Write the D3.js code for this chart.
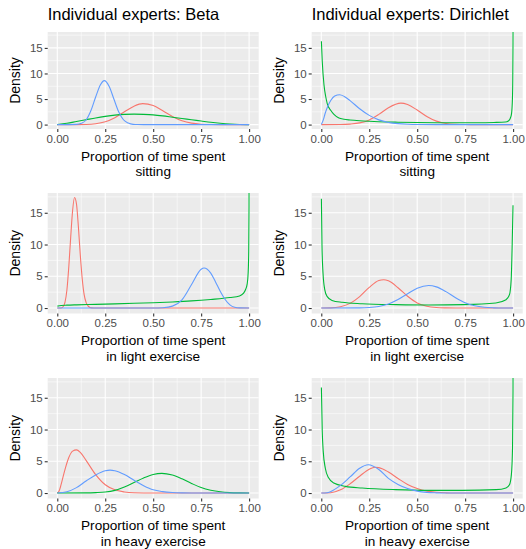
<!DOCTYPE html>
<html>
<head>
<meta charset="utf-8">
<script src="https://cdn.jsdelivr.net/npm/d3@7"></script>
<style>
body { margin: 0; background: #fff; }
text { font-family: "Liberation Sans", Arial, Helvetica, sans-serif; }
</style>
</head>
<body>
<div id="chart"></div>
<script>
// densities, as [proportion, density]
// expert 1 = red, expert 2 = green, expert 3 = blue

// sitting
var betaSittingRed = [[0,0],[0.1,0],[0.15,0.02],[0.2,0.16],[0.25,0.55],[0.3,1.35],[0.35,2.5],[0.4,3.6],[0.445,4.1],[0.5,3.75],[0.55,2.7],[0.6,1.6],[0.65,0.75],[0.7,0.28],[0.75,0.08],[0.8,0.02],[0.85,0],[1,0]];
var betaSittingGreen = [[0,0],[0.05,0.25],[0.1,0.6],[0.15,0.95],[0.2,1.3],[0.25,1.6],[0.3,1.85],[0.35,2.0],[0.4,2.05],[0.45,2.0],[0.5,1.9],[0.55,1.7],[0.6,1.45],[0.65,1.2],[0.7,0.95],[0.75,0.7],[0.8,0.45],[0.85,0.25],[0.9,0.1],[0.95,0.02],[1,0]];
var betaSittingBlue = [[0,0],[0.1,0.05],[0.125,0.25],[0.15,0.9],[0.175,2.7],[0.2,5.4],[0.225,7.8],[0.245,8.6],[0.27,7.5],[0.295,5.0],[0.32,2.5],[0.345,0.95],[0.37,0.3],[0.395,0.05],[0.42,0.01],[0.45,0],[1,0]];

var dirSittingRed = [[0,0],[0.1,0.02],[0.15,0.1],[0.2,0.33],[0.25,0.92],[0.3,2.0],[0.35,3.3],[0.415,4.2],[0.45,3.92],[0.5,2.85],[0.55,1.6],[0.6,0.68],[0.65,0.22],[0.7,0.06],[0.75,0.01],[0.8,0],[1,0]];
var dirSittingGreen = [[0.0005,16.3],[0.005,12.4],[0.014,7.8],[0.023,5.5],[0.031,4.1],[0.049,2.8],[0.066,2.0],[0.092,1.3],[0.118,1.05],[0.15,0.9],[0.2,0.75],[0.25,0.65],[0.3,0.57],[0.4,0.47],[0.5,0.4],[0.6,0.37],[0.7,0.36],[0.8,0.37],[0.9,0.42],[0.96,0.5],[0.975,0.7],[0.985,1.2],[0.992,2.2],[0.996,4.5],[0.998,8],[0.9995,16],[1,25]];
var dirSittingBlue = [[0,0],[0.01,0.88],[0.02,2.17],[0.035,3.67],[0.05,4.76],[0.07,5.6],[0.096,5.85],[0.12,5.5],[0.15,4.7],[0.2,3.1],[0.25,1.8],[0.3,0.92],[0.35,0.42],[0.4,0.18],[0.45,0.07],[0.5,0.02],[0.6,0],[1,0]];

// light exercise
var betaLightRed = [[0,0],[0.02,0],[0.03,0.2],[0.04,0.9],[0.05,2.8],[0.06,6.5],[0.07,11.2],[0.08,15.4],[0.09,17.4],[0.1,16.4],[0.11,12.8],[0.12,8.3],[0.13,4.6],[0.14,2.1],[0.15,0.9],[0.16,0.35],[0.17,0.1],[0.18,0.03],[0.2,0],[1,0]];
var betaLightGreen = [[0.0005,0.3],[0.02,0.4],[0.05,0.45],[0.1,0.5],[0.2,0.57],[0.3,0.65],[0.4,0.74],[0.5,0.84],[0.6,0.96],[0.7,1.12],[0.8,1.35],[0.9,1.65],[0.95,1.9],[0.97,2.3],[0.98,2.8],[0.99,3.8],[0.995,5.5],[0.998,9],[0.9995,16],[1,30]];
var betaLightBlue = [[0,0],[0.5,0],[0.55,0.05],[0.6,0.3],[0.65,1.3],[0.7,3.7],[0.75,6.1],[0.765,6.3],[0.8,5.5],[0.825,4.1],[0.85,2.6],[0.875,1.35],[0.9,0.5],[0.925,0.12],[0.95,0.02],[1,0]];

var dirLightRed = [[0,0],[0.05,0.02],[0.1,0.21],[0.15,0.73],[0.2,1.8],[0.25,3.25],[0.3,4.33],[0.325,4.45],[0.35,4.28],[0.4,3.2],[0.45,1.85],[0.5,0.8],[0.55,0.28],[0.6,0.08],[0.65,0.02],[0.7,0],[1,0]];
var dirLightGreen = [[0.0005,17.2],[0.0037,9.7],[0.009,5.5],[0.018,2.9],[0.03,1.84],[0.056,1.2],[0.108,0.9],[0.213,0.68],[0.39,0.53],[0.56,0.47],[0.74,0.53],[0.91,0.79],[0.963,1.3],[0.981,2.1],[0.99,4.5],[0.995,9.7],[0.9995,16.2]];
var dirLightBlue = [[0,0],[0.2,0.02],[0.25,0.08],[0.3,0.25],[0.35,0.64],[0.4,1.33],[0.45,2.25],[0.5,3.12],[0.56,3.55],[0.6,3.33],[0.65,2.58],[0.7,1.63],[0.75,0.84],[0.8,0.36],[0.85,0.12],[0.9,0.03],[0.95,0],[1,0]];

// heavy exercise
var betaHeavyRed = [[0,0],[0.01,0.35],[0.02,1.35],[0.04,3.7],[0.06,5.6],[0.08,6.6],[0.1,6.8],[0.12,6.4],[0.15,5.15],[0.2,2.9],[0.25,1.3],[0.3,0.5],[0.35,0.17],[0.4,0.05],[0.5,0],[1,0]];
var betaHeavyGreen = [[0,0],[0.15,0.02],[0.2,0.06],[0.25,0.15],[0.3,0.42],[0.35,0.95],[0.4,1.65],[0.45,2.38],[0.5,2.93],[0.545,3.1],[0.6,2.83],[0.65,2.24],[0.7,1.51],[0.75,0.86],[0.8,0.44],[0.85,0.19],[0.9,0.07],[0.95,0.02],[1,0]];
var betaHeavyBlue = [[0,0],[0.05,0.2],[0.1,0.85],[0.15,1.9],[0.2,2.85],[0.25,3.5],[0.275,3.6],[0.3,3.5],[0.35,2.9],[0.4,2.0],[0.45,1.15],[0.5,0.5],[0.55,0.22],[0.6,0.08],[0.65,0.02],[0.7,0],[1,0]];

var dirHeavyRed = [[0,0],[0.05,0.05],[0.1,0.5],[0.15,1.45],[0.2,2.65],[0.25,3.75],[0.28,4.05],[0.3,4.0],[0.35,3.3],[0.4,2.3],[0.45,1.35],[0.5,0.7],[0.55,0.3],[0.6,0.11],[0.65,0.03],[0.7,0],[1,0]];
var dirHeavyGreen = [[0.0005,16.6],[0.005,9.7],[0.01,6.6],[0.021,3.9],[0.038,2.4],[0.065,1.58],[0.126,1.05],[0.213,0.79],[0.387,0.53],[0.562,0.42],[0.736,0.42],[0.911,0.53],[0.963,0.8],[0.981,1.3],[0.991,2.9],[0.997,7.1],[0.9995,16],[1,30]];
var dirHeavyBlue = [[0,0],[0.03,0.05],[0.05,0.25],[0.1,1.2],[0.15,2.53],[0.2,3.9],[0.245,4.45],[0.3,3.7],[0.35,2.3],[0.4,1.35],[0.45,0.7],[0.5,0.3],[0.55,0.1],[0.6,0.03],[0.65,0],[1,0]];

var models = ["Beta", "Dirichlet"];
var activities = ["sitting", "in light exercise", "in heavy exercise"];
var expertColours = ["#F8766D", "#00BA38", "#619CFF"];
var xTicks = [0, 0.25, 0.5, 0.75, 1];
var xMinor = [0.125, 0.375, 0.625, 0.875];
var yTicks = [0, 5, 10, 15];
var yMinor = [2.5, 7.5, 12.5, 17.5];
var yMax = 17.25;

var curves = [
    [[betaSittingRed, betaSittingGreen, betaSittingBlue], [dirSittingRed, dirSittingGreen, dirSittingBlue]],
    [[betaLightRed, betaLightGreen, betaLightBlue], [dirLightRed, dirLightGreen, dirLightBlue]],
    [[betaHeavyRed, betaHeavyGreen, betaHeavyBlue], [dirHeavyRed, dirHeavyGreen, dirHeavyBlue]]
];

// panel boxes
var width = 526, height = 549;
var colLeft = [47.7, 311.7];
var panelW = 211;
var rowTop = [32, 193, 378];
var rowBottom = [129, 313.5, 498.5];

var svg = d3.select("#chart")
    .append("svg")
    .attr("width", width)
    .attr("height", height);

models.forEach(function(model, c) {
    svg.append("text")
        .attr("x", colLeft[c])
        .attr("y", 20)
        .attr("font-size", "16.5px")
        .attr("fill", "#000")
        .text("Individual experts: " + model);

    activities.forEach(function(activity, r) {
        var left = colLeft[c], right = left + panelW;
        var top = rowTop[r], bottom = rowBottom[r];

        var x = d3.scaleLinear().domain([-0.05, 1.05]).range([left, right]);
        var y = d3.scaleLinear().domain([-0.05 * yMax, 1.05 * yMax]).range([bottom, top]);

        var g = svg.append("g");
        var clipId = "clip-" + r + "-" + c;
        g.append("clipPath").attr("id", clipId)
            .append("rect")
            .attr("x", left).attr("y", top)
            .attr("width", right - left).attr("height", bottom - top);

        g.append("rect")
            .attr("x", left).attr("y", top)
            .attr("width", right - left).attr("height", bottom - top)
            .attr("fill", "#EBEBEB");

        // grid
        g.selectAll(".xminor").data(xMinor).enter().append("line")
            .attr("x1", d => x(d)).attr("x2", d => x(d))
            .attr("y1", top).attr("y2", bottom)
            .attr("stroke", "#fff").attr("stroke-width", 0.55);
        g.selectAll(".yminor").data(yMinor).enter().append("line")
            .attr("x1", left).attr("x2", right)
            .attr("y1", d => y(d)).attr("y2", d => y(d))
            .attr("stroke", "#fff").attr("stroke-width", 0.55);
        g.selectAll(".xmajor").data(xTicks).enter().append("line")
            .attr("x1", d => x(d)).attr("x2", d => x(d))
            .attr("y1", top).attr("y2", bottom)
            .attr("stroke", "#fff").attr("stroke-width", 1.1);
        g.selectAll(".ymajor").data(yTicks).enter().append("line")
            .attr("x1", left).attr("x2", right)
            .attr("y1", d => y(d)).attr("y2", d => y(d))
            .attr("stroke", "#fff").attr("stroke-width", 1.1);

        // density curves
        var line = d3.line()
            .x(d => x(d[0]))
            .y(d => y(d[1]))
            .curve(d3.curveMonotoneX);

        g.append("g")
            .attr("clip-path", "url(#" + clipId + ")")
            .selectAll("path")
            .data(curves[r][c])
            .enter()
            .append("path")
            .attr("d", line)
            .attr("fill", "none")
            .attr("stroke", (d, i) => expertColours[i])
            .attr("stroke-width", 1.1);

        // axes
        var xAxis = g.append("g")
            .attr("transform", `translate(0, ${bottom})`)
            .call(d3.axisBottom(x).tickValues(xTicks).tickFormat(d3.format(".2f")).tickSize(3).tickPadding(2.8));
        var yAxis = g.append("g")
            .attr("transform", `translate(${left}, 0)`)
            .call(d3.axisLeft(y).tickValues(yTicks).tickSize(3).tickPadding(2));
        [xAxis, yAxis].forEach(function(a) {
            a.select(".domain").remove();
            a.selectAll("line").attr("stroke", "#333333").attr("stroke-width", 1.1);
            a.selectAll("text")
                .attr("fill", "#4D4D4D")
                .attr("font-size", "11.5px")
                .style("font-family", "'Liberation Sans', Arial, sans-serif");
        });

        // axis titles
        var mid = (left + right) / 2;
        g.append("text")
            .attr("x", mid).attr("y", bottom + 31.8)
            .attr("text-anchor", "middle")
            .attr("font-size", "13.6px")
            .text("Proportion of time spent");
        g.append("text")
            .attr("x", mid).attr("y", bottom + 47.4)
            .attr("text-anchor", "middle")
            .attr("font-size", "13.6px")
            .text(activity);

        g.append("text")
            .attr("transform", `translate(${left - 28}, ${(top + bottom) / 2}) rotate(-90)`)
            .attr("text-anchor", "middle")
            .attr("font-size", "14px")
            .text("Density");
    });
});
</script>
</body>
</html>
